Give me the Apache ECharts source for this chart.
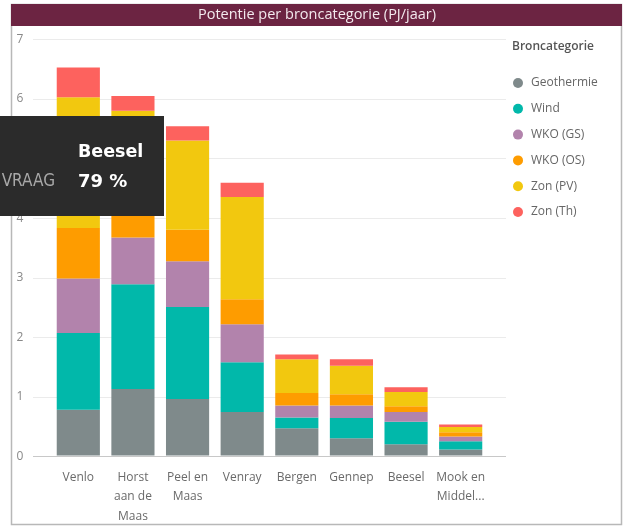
<!DOCTYPE html>
<html>
<head>
<meta charset="utf-8">
<script src="https://cdn.jsdelivr.net/npm/echarts@6/dist/echarts.min.js"></script>
<style>html,body{margin:0;padding:0;background:#fff}#c{width:625px;height:526px}</style>
</head>
<body>
<div id="c"></div>
<script>
const categories = ["Venlo","Horst aan de Maas","Peel en Maas","Venray","Bergen","Gennep","Beesel","Mook en Middelaar"];
const xLabels = ["Venlo","Horst\naan de\nMaas","Peel en\nMaas","Venray","Bergen","Gennep","Beesel","Mook en\nMiddel..."];
const seriesNames = ["Geothermie","Wind","WKO (GS)","WKO (OS)","Zon (PV)","Zon (Th)"];
const geothermie = [0.77,1.12,0.95,0.73,0.46,0.29,0.19,0.10];
const wind       = [1.29,1.76,1.55,0.84,0.18,0.34,0.38,0.14];
const wkoGS      = [0.92,0.79,0.77,0.64,0.20,0.21,0.16,0.08];
const wkoOS      = [0.85,0.43,0.53,0.42,0.21,0.19,0.10,0.07];
const zonPV      = [2.20,1.70,1.50,1.72,0.57,0.48,0.24,0.09];
const zonTh      = [0.50,0.25,0.24,0.24,0.08,0.11,0.08,0.04];
const yTicks = [0,1,2,3,4,5,6,7];
const colors = ["#7f8a8b","#01b8aa","#b283ac","#fe9c00","#f2c80f","#fd625e"];
const allSeries = [geothermie, wind, wkoGS, wkoOS, zonPV, zonTh];

const font = "Open Sans";
const chart = echarts.init(document.getElementById('c'), null, {renderer:'canvas'});
chart.setOption({
  animation:false,
  textStyle:{fontFamily:font},
  color: colors,
  grid:[
    {left:33, right:119, top:39.5, height:417, containLabel:false},
    {left:51, right:137, top:39.5, height:417, containLabel:false}
  ],
  xAxis:[
    {gridIndex:0, type:'value', min:0, max:1, show:false},
    {gridIndex:1, type:'category', data:categories,
      axisLine:{show:false}, axisTick:{show:false},
      axisLabel:{color:'#6a6a6a', fontSize:12, fontFamily:font, lineHeight:19.5, margin:12, interval:0,
        formatter:(v,i)=>xLabels[i]}}
  ],
  yAxis:[
    {gridIndex:0, type:'value', min:yTicks[0], max:yTicks[yTicks.length-1], interval:1,
      axisLine:{show:false}, axisTick:{show:false},
      axisLabel:{color:'#888', fontSize:12, fontFamily:font, align:'center', margin:13},
      splitLine:{lineStyle:{color:'#ebebeb', width:1}}},
    {gridIndex:1, type:'value', min:0, max:7, interval:1, show:false, splitLine:{show:false}}
  ],
  legend:{
    orient:'vertical', left:513, top:76, padding:0, icon:'circle', itemWidth:10, itemHeight:10, itemGap:11.8,
    data:seriesNames,
    textStyle:{color:'#666', fontSize:12, fontFamily:font, lineHeight:14, padding:[0,0,0,3]}
  },
  graphic:[
    {type:'rect', shape:{x:11.5, y:4.5, width:610, height:520}, style:{fill:'none', stroke:'#b8b8b8', lineWidth:1.5}, z:100},
    {type:'rect', shape:{x:11, y:4, width:611, height:22}, style:{fill:'#6c2442'}, z:101},
    {type:'text', x:317, y:15, style:{text:'Potentie per broncategorie (PJ/jaar)', fill:'#f3eaee', font:'14.5px "Open Sans"', textAlign:'center', textVerticalAlign:'middle'}, z:102},
    {type:'line', shape:{x1:33, y1:456.5, x2:506, y2:456.5}, style:{stroke:'#c8c8c8', lineWidth:1.2}, z:5},
    {type:'text', x:512, y:47, style:{text:'Broncategorie', fill:'#555', font:'600 12px "Open Sans"', textVerticalAlign:'middle'}, z:102},
    {type:'rect', shape:{x:0, y:116, width:164, height:100}, style:{fill:'#2b2b2b'}, z:110},
    {type:'text', x:78, y:152, style:{text:'Beesel', fill:'#ffffff', font:'bold 17.5px "DejaVu Sans"', textVerticalAlign:'middle'}, z:111},
    {type:'text', x:55, y:182, style:{text:'VRAAG', fill:'#a8a8a8', font:'17px "DejaVu Sans Condensed"', textAlign:'right', textVerticalAlign:'middle'}, z:111},
    {type:'text', x:78, y:182, style:{text:'79 %', fill:'#ffffff', font:'bold 18px "DejaVu Sans"', textVerticalAlign:'middle'}, z:111}
  ],
  series:[
    {type:'line', xAxisIndex:0, yAxisIndex:0, data:[], silent:true, legendHoverLink:false},
    ...seriesNames.map((n,i)=>({
      name:n, type:'bar', stack:'total', xAxisIndex:1, yAxisIndex:1,
      data:allSeries[i], barCategoryGap:'21%',
      itemStyle:{color:colors[i]}
    }))
  ]
});
</script>
</body>
</html>
